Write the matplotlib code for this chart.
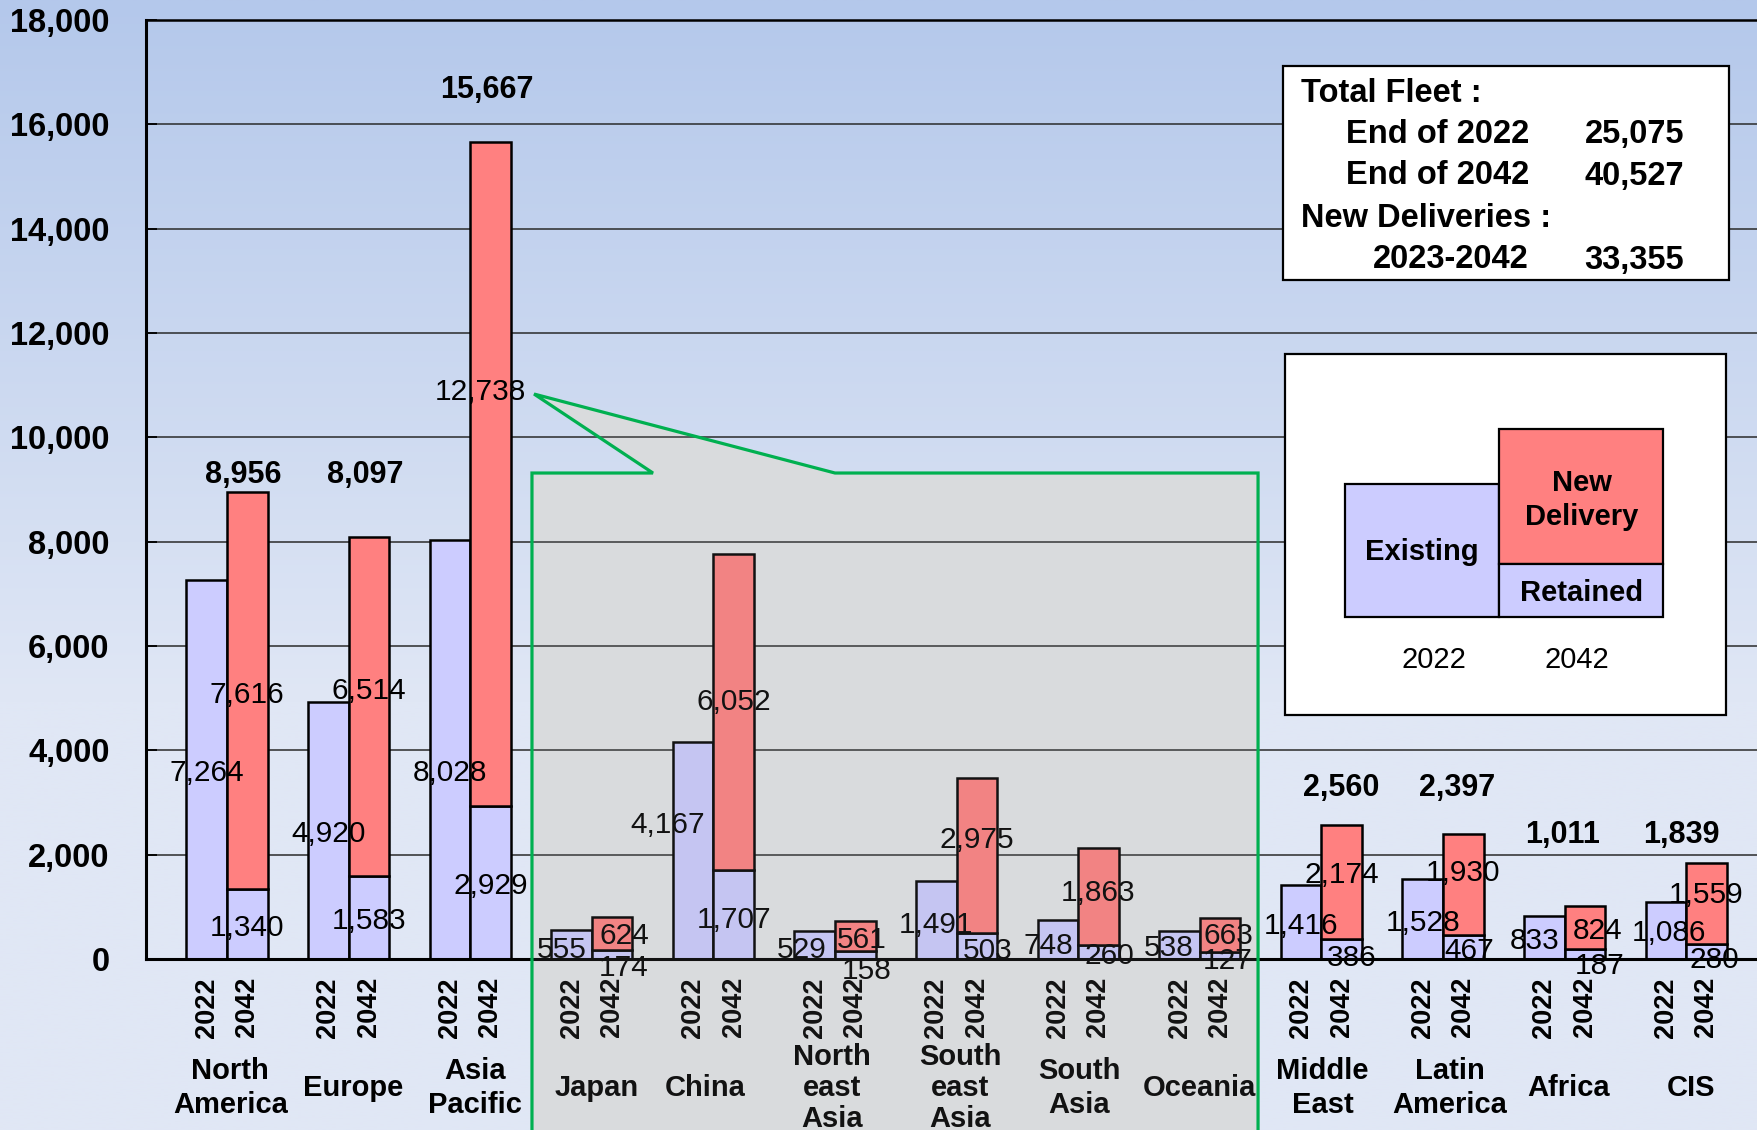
import numpy as np
import matplotlib
matplotlib.use("Agg")
import matplotlib.pyplot as plt
from matplotlib.patches import Rectangle, Polygon
from matplotlib.lines import Line2D

plt.rcParams["font.family"] = ["Liberation Sans", "DejaVu Sans"]

# ---- data -------------------------------------------------------------
regions = ["North\nAmerica", "Europe", "Asia\nPacific", "Japan", "China",
           "North\neast\nAsia", "South\neast\nAsia", "South\nAsia", "Oceania",
           "Middle\nEast", "Latin\nAmerica", "Africa", "CIS"]
# Asia Pacific breakdown (drawn inside the highlighted panel)
is_subregion = [False, False, False, True, True, True, True, True, True,
                False, False, False, False]
existing_2022 = [7264, 4920, 8028, 555, 4167, 529, 1491, 748, 538,
                 1416, 1528, 833, 1086]
retained_2042 = [1340, 1583, 2929, 174, 1707, 158, 503, 260, 127,
                 386, 467, 187, 280]
new_delivery_2042 = [7616, 6514, 12738, 624, 6052, 561, 2975, 1863, 663,
                     2174, 1930, 824, 1559]
years = ["2022", "2042"]
y_ticks = list(range(0, 18001, 2000))

# ---- layout -----------------------------------------------------------
W, H = 1757, 1130
DPI = 100
PITCH = 121.6          # pixels between neighbouring groups
# placement of the bold 2042 totals: (x shift from group centre, height)
total_label_layout = {0: (0.13, 9340), 1: (0.14, 9340), 2: (0.14, 16730),
                      9: (0.16, 3350), 10: (0.115, 3350),
                      11: (-0.02, 2450), 12: (-0.04, 2450)}
# nudges of the segment value labels: (dx in pixels, dy in fleet units)
existing_nudge = [(0, 0), (0, 0), (0, -390), (-10, -40), (-25, 550),
                  (-13, -30), (0, -30), (-10, -70), (-11, 0),
                  (0, -20), (0, -15), (-10, -15), (3, 13)]
retained_nudge = [(0, -25), (0, 0), (0, 0), (12, -200), (0, -40),
                  (11, -250), (11, -40), (11, -15), (8, -45),
                  (10, -116), (6, -22), (15, -170), (8, -100)]
new_nudge = [(0, -30), (0, 357), (-10, 1634), (12, 12), (0, 250),
             (6, -11), (0, 350), (0, 130), (8, 40),
             (0, 200), (0, 275), (13, -5), (0, 230)]
# horizontal nudges of the region names, in pixels
region_dx = [3, 4, 4, 4, -7, -3, 3, 1, 0, 1, 6, 4, 4]

C_EXIST = "#ccccff"
C_NEW = "#ff8080"
C_GREEN = "#00b050"


def fx(px):
    return px / W


def fy(py):
    return 1 - py / H


fig = plt.figure(figsize=(W / DPI, H / DPI), dpi=DPI)

# background gradient
bg = fig.add_axes([0, 0, 1, 1], zorder=-10)
t = np.linspace(0, 1, 400)[:, None]
top = np.array([180, 200, 235]) / 255
bot = np.array([224, 231, 245]) / 255
k = np.clip(t / 0.62, 0, 1)
grad = top + (bot - top) * k
grad = np.repeat(grad[:, None, :], 2, axis=1)
bg.imshow(grad, aspect="auto", extent=[0, 1, 0, 1])
bg.axis("off")

# main axes
x0_px = 227.0
ax_left, ax_right = 145.7, 1770.0
ax = fig.add_axes([fx(ax_left), 171 / H, (ax_right - ax_left) / W, 939 / H])
ax.set_facecolor("none")
ax.set_xlim((ax_left - x0_px) / PITCH, (ax_right - x0_px) / PITCH)
ax.set_ylim(0, 18000)
ax.set_axisbelow(True)

n = len(regions)
xs = np.arange(n)
bw = 1 / 3
x22 = xs - bw / 2
x42 = xs + bw / 2

ax.bar(x22, existing_2022, width=bw, color=C_EXIST, edgecolor="black",
       linewidth=1.8, zorder=2)
ax.bar(x42, retained_2042, width=bw, color=C_EXIST, edgecolor="black",
       linewidth=1.8, zorder=2)
ax.bar(x42, new_delivery_2042, width=bw, bottom=retained_2042, color=C_NEW,
       edgecolor="black", linewidth=1.8, zorder=2)

# value labels near segment centres
vfs = 21.5


def value_label(x, y, val, nudge):
    dx, dy = nudge
    ax.text(x + dx / PITCH, y + dy, f"{val:,}", ha="center",
            va="center_baseline", fontsize=vfs, zorder=3)


for i in range(n):
    e, r, nd = existing_2022[i], retained_2042[i], new_delivery_2042[i]
    value_label(x22[i], e / 2, e, existing_nudge[i])
    value_label(x42[i], r / 2, r, retained_nudge[i])
    value_label(x42[i], r + nd / 2, nd, new_nudge[i])
    if i in total_label_layout:
        dx, yy = total_label_layout[i]
        ax.text(xs[i] + dx, yy, f"{r + nd:,}", ha="center",
                va="center_baseline", fontsize=22, fontweight="bold",
                zorder=3)

# axes styling
ax.spines["right"].set_visible(False)
ax.spines["left"].set_linewidth(2.2)
ax.spines["top"].set_linewidth(1.8)
ax.spines["bottom"].set_linewidth(2.2)
ax.set_yticks(y_ticks)
ax.set_yticklabels([f"{v:,}" for v in y_ticks], fontsize=23.5,
                   fontweight="bold")
ax.tick_params(axis="y", direction="in", length=8, width=1.3, pad=26)
ax.yaxis.grid(True, color="#2a2a2a", linewidth=1.1)

tick_pos = np.ravel(np.column_stack([x22, x42]))
ax.set_xticks(tick_pos)
ax.set_xticklabels(years * n, rotation=90, fontsize=19.5, fontweight="bold")
ax.tick_params(axis="x", length=0, pad=13)

# region names below the year labels
for i, name in enumerate(regions):
    lines = name.count("\n") + 1
    ls = 1.12 if lines == 3 else 1.3
    ax.text(xs[i] + region_dx[i] * 1.12 / PITCH, (H - 1088 - 171) / 939, name,
            transform=ax.get_xaxis_transform(), ha="center", va="center",
            fontsize=21, fontweight="bold", linespacing=ls, clip_on=False,
            zorder=3)

# highlighted Asia Pacific breakdown panel with callout
sub_idx = [i for i, s in enumerate(is_subregion) if s]
p_left = sub_idx[0] - 0.492
p_right = sub_idx[-1] + 0.479
p_top = 9316
p_bot = -3600
tip = (2.525, 10830)
notch = (3.503, 5.0)
panel = [(p_left, p_bot), (p_left, p_top), (notch[0], p_top), tip,
         (notch[1], p_top), (p_right, p_top), (p_right, p_bot)]
ax.add_patch(Polygon(panel, closed=True, facecolor="#e2e4e7",
                     edgecolor="none", zorder=0.3, clip_on=False))
ax.add_patch(Polygon(panel, closed=True, facecolor="#9a9a9a", alpha=0.12,
                     edgecolor="none", zorder=10, clip_on=False))
px_, py_ = zip(*panel)
ax.add_line(Line2D(px_, py_, color=C_GREEN, linewidth=2.3, zorder=11,
                   clip_on=False, solid_joinstyle="miter"))

# ---- summary box ----------------------------------------------------------
fleet_2022 = sum(v for v, s in zip(existing_2022, is_subregion) if not s)
fleet_2042 = sum(r + d for r, d, s in zip(retained_2042, new_delivery_2042,
                                           is_subregion) if not s)
deliveries = sum(d for d, s in zip(new_delivery_2042, is_subregion) if not s)

fig.add_artist(Rectangle((fx(1283), fy(280)), (1729 - 1283) / W, (280 - 66) / H,
                         transform=fig.transFigure, facecolor="white",
                         edgecolor="black", linewidth=1.6, zorder=5))
bfs = 23.5
tkw = dict(fontsize=bfs, fontweight="bold", va="center_baseline", zorder=6)
rows = [89.5, 131, 172.5, 215, 256.5]
fig.text(fx(1301), fy(rows[0]), "Total Fleet :", ha="left", **tkw)
fig.text(fx(1529), fy(rows[1]), "End of 2022", ha="right", **tkw)
fig.text(fx(1684), fy(rows[1]), f"{fleet_2022:,}", ha="right", **tkw)
fig.text(fx(1529), fy(rows[2]), "End of 2042", ha="right", **tkw)
fig.text(fx(1684), fy(rows[2]), f"{fleet_2042:,}", ha="right", **tkw)
fig.text(fx(1301), fy(rows[3]), "New Deliveries :", ha="left", **tkw)
fig.text(fx(1529), fy(rows[4]), "2023-2042", ha="right", **tkw)
fig.text(fx(1684), fy(rows[4]), f"{deliveries:,}", ha="right", **tkw)


# ---- key box --------------------------------------------------------------
def frect(x1, y1, x2, y2, **kw):
    fig.add_artist(Rectangle((fx(x1), fy(y2)), (x2 - x1) / W, (y2 - y1) / H,
                             transform=fig.transFigure, **kw))


frect(1285, 354, 1726, 715, facecolor="white", edgecolor="black",
      linewidth=1.6, zorder=5)
frect(1345, 484, 1499, 617, facecolor=C_EXIST, edgecolor="black",
      linewidth=1.6, zorder=6)
frect(1499, 429, 1663, 564, facecolor=C_NEW, edgecolor="black",
      linewidth=1.6, zorder=6)
frect(1499, 564, 1663, 617, facecolor=C_EXIST, edgecolor="black",
      linewidth=1.6, zorder=6)
kkw = dict(fontsize=21, ha="center", va="center", zorder=7)
fig.text(fx(1422), fy(552), "Existing", fontweight="bold", **kkw)
fig.text(fx(1582), fy(500), "New\nDelivery", fontweight="bold",
         linespacing=1.25, **kkw)
fig.text(fx(1582), fy(593), "Retained", fontweight="bold", **kkw)
fig.text(fx(1434), fy(660), years[0], **kkw)
fig.text(fx(1577), fy(660), years[1], **kkw)

fig.savefig("out.png", dpi=DPI)
